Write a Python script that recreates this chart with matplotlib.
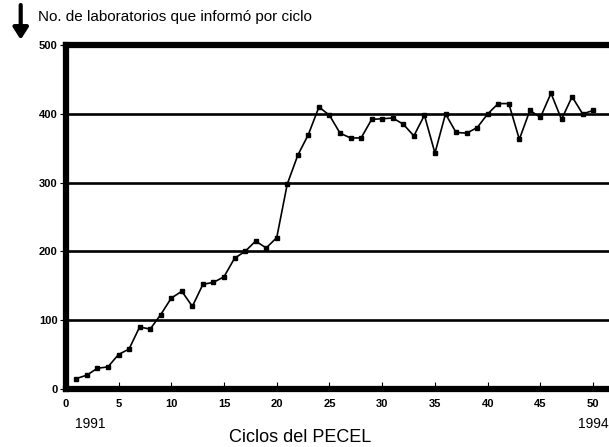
import matplotlib.pyplot as plt

plt.rcParams['font.family'] = ['Liberation Sans', 'DejaVu Sans']

# Ciclos del PECEL y número de laboratorios que informó
ciclos = list(range(1, 51))
laboratorios = [15, 20, 30, 32, 50, 58, 90, 87, 108, 132,
                142, 120, 152, 155, 163, 190, 200, 215, 205, 220,
                298, 340, 370, 410, 398, 372, 365, 365, 392, 393,
                394, 385, 368, 398, 343, 400, 373, 372, 380, 400,
                415, 415, 363, 405, 395, 430, 392, 425, 400, 405]
x_ticks = [0, 5, 10, 15, 20, 25, 30, 35, 40, 45, 50]
y_ticks = [0, 100, 200, 300, 400, 500]

fig = plt.figure(figsize=(6.09, 4.47), dpi=100)
ax = fig.add_axes([0.108, 0.130, 0.892, 0.769])

for y in [100, 200, 300, 400]:
    ax.axhline(y, color='black', lw=1.9, zorder=1)

ax.plot(ciclos, laboratorios, color='black', lw=1.2, marker='s', markersize=3, zorder=3)

ax.set_xlim(0, 51.5)
ax.set_ylim(0, 500)
ax.set_xticks(x_ticks)
ax.set_yticks(y_ticks)
ax.tick_params(axis='x', direction='in', length=5, width=0.8, labelsize=8, pad=7)
ax.tick_params(axis='y', direction='out', length=4, width=0.8, labelsize=8, pad=2)
for lab in ax.get_xticklabels() + ax.get_yticklabels():
    lab.set_fontweight('bold')

ax.spines['right'].set_visible(False)
for s in ['top', 'left', 'bottom']:
    ax.spines[s].set_linewidth(4.5)
ax.spines['top'].set_zorder(4)

fig.text(0.149, 0.051, '1991', fontsize=10, ha='center', va='center')
fig.text(0.999, 0.051, '1994', fontsize=10, ha='right', va='center')
fig.text(0.493, 0.022, 'Ciclos del PECEL', fontsize=13, ha='center', va='center')
fig.text(0.062, 0.962, 'No. de laboratorios que informó por ciclo', fontsize=11,
         ha='left', va='center')

# flecha hacia abajo
ax.annotate('', xy=(0.034, 0.905), xytext=(0.034, 0.995), xycoords='figure fraction',
            arrowprops=dict(arrowstyle='-|>,head_width=0.45,head_length=0.7',
                            color='black', lw=3))

fig.savefig('out.png', dpi=100)
